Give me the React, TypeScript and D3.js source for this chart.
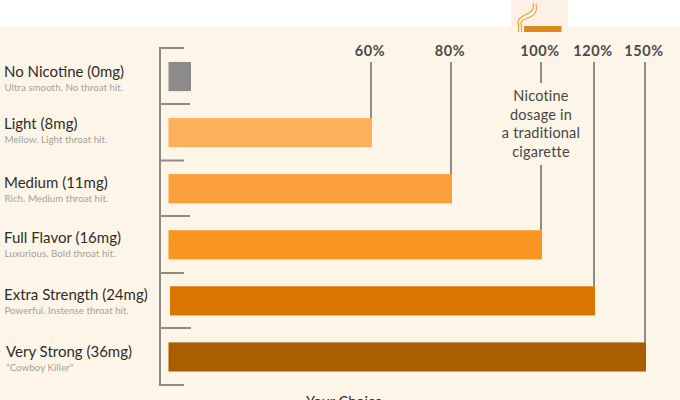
import React from "react";
import * as d3 from "d3";

const names = ["No Nicotine (0mg)", "Light (8mg)", "Medium (11mg)", "Full Flavor (16mg)", "Extra Strength (24mg)", "Very Strong (36mg)"];
const subs = ["Ultra smooth. No throat hit.", "Mellow. Light throat hit.", "Rich. Medium throat hit.", "Luxurious. Bold throat hit.", "Powerful. Instense throat hit.", "\"Cowboy Killer\""];
const percents = [0, 60, 80, 100, 120, 150];
const colors = ["#8c8a8b", "#fdb05c", "#fb9f3b", "#fa9524", "#da7504", "#a95e05"];
const noteLines = ["Nicotine", "dosage in", "a traditional", "cigarette"];
const tickYs = [48, 104, 160.5, 216, 273, 328, 385];
const tickEnds = [184, 190, 184, 190, 184, 191, 184];
const labelX = [4, 4, 4, 4, 4, 6];
const nameBaselines = [77, 128.5, 188, 243, 300, 357];
const subBaselines = [91, 143, 201.5, 257, 314, 371];

const FONT = "Lato, 'Noto Sans', sans-serif";
const GREY = "#8e8a84";

export default function App() {
  const x = d3.scaleLinear().domain(percents).range([191, 372, 452, 542, 595, 646]);
  const y = d3.scaleBand<number>().domain(d3.range(names.length)).range([48.5, 385]).paddingInner(0.48).paddingOuter(0.24);
  return (
    <svg width={680} height={400} style={{ position: "fixed", left: 0, top: 0, display: "block" }} fontFamily={FONT}>
      <defs>
        <filter id="soft" x="-5%" y="-5%" width="110%" height="110%"><feGaussianBlur stdDeviation="0.3" /></filter>
      </defs>
      <rect width={680} height={400} fill="#ffffff" />
      <rect y={27} width={680} height={373} fill="#fdf6e8" />
      <rect x={511} width={57} height={27} fill="#fbf1e4" />
      <g filter="url(#soft)">
        {/* cigarette icon */}
        <rect x={524} y={26} width={37.5} height={6} fill="#dc8a1e" />
        <g fill="none" stroke="#eda245" strokeWidth={1.2}>
          <path d="M518.5 32 L518.5 26 C516 17 524 16 529 13 C534 10 534 7 533 3" />
          <path d="M521.5 32 L521.5 26 C519 19 527 19 532 16 C537 13 537 8 536 4" />
        </g>
        {/* left bracket */}
        <line x1={160} x2={160} y1={tickYs[0] - 1} y2={tickYs[6] + 1} stroke={GREY} strokeWidth={2} />
        {tickYs.map((t, i) => (
          <line key={i} x1={160} x2={tickEnds[i]} y1={t} y2={t} stroke={GREY} strokeWidth={2} />
        ))}
        {/* leader lines */}
        {percents.slice(1).map((p, k) => {
          const i = k + 1;
          const px = x(p) - 1;
          const top = y(i)!;
          return p === 100 ? (
            <g key={p}>
              <line x1={px} x2={px} y1={62} y2={83} stroke={GREY} strokeWidth={2} />
              <line x1={px} x2={px} y1={165} y2={top} stroke={GREY} strokeWidth={2} />
            </g>
          ) : (
            <line key={p} x1={px} x2={px} y1={62} y2={top} stroke={GREY} strokeWidth={2} />
          );
        })}
        {/* bars */}
        {percents.map((p, i) => (
          <rect key={i} x={i === 4 ? 170 : 168.5} y={y(i)} width={x(p) - (i === 4 ? 170 : 168.5)} height={y.bandwidth()} fill={colors[i]} />
        ))}
      </g>
      {/* percent labels */}
      {percents.slice(1).map((p) => (
        <text key={p} x={x(p) - 2} y={56} textAnchor="middle" fontSize={14.5} fontWeight={700} fill="#4b4a47" letterSpacing={0.6}>{p}%</text>
      ))}
      {/* note */}
      {noteLines.map((l, i) => (
        <text key={l} x={541} y={101 + i * 18.6} textAnchor="middle" fontSize={14.5} letterSpacing={0.2} fill="#47453f">{l}</text>
      ))}
      {/* row labels */}
      {names.map((n, i) => (
        <g key={n}>
          <text x={labelX[i]} y={nameBaselines[i]} fontSize={15} fill="#2f2d2a">{n}</text>
          <text x={labelX[i] + (i === 5 ? 0 : 0.5)} y={subBaselines[i]} fontSize={9.8} fill="#a5a199">{subs[i]}</text>
        </g>
      ))}
      <text x={306} y={407} fontSize={14.5} fill="#2f2d2a">Your Choice</text>
    </svg>
  );
}
